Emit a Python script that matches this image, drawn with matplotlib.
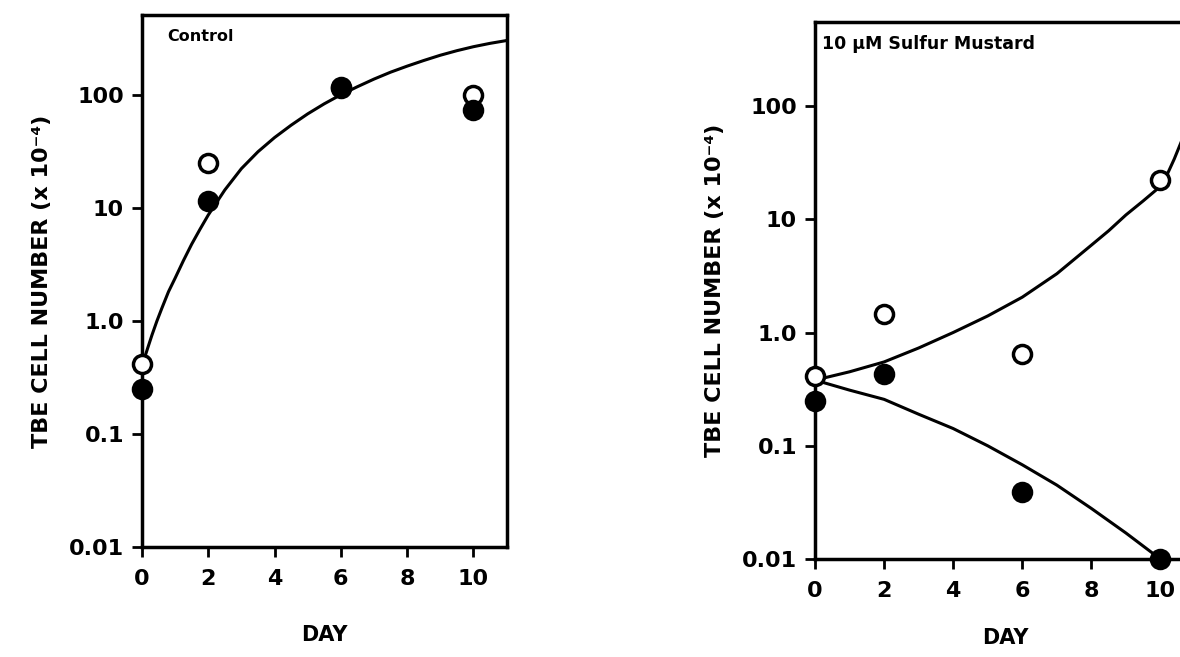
import numpy as np
import matplotlib.pyplot as plt

# values
days = [0, 2, 6, 10]

ctrl_open = [0.42, 25, 118, 100]
ctrl_filled = [0.25, 11.5, 117, 74]
ctrl_fit_x = [0, 0.15, 0.3, 0.45, 0.6, 0.8, 1.0, 1.25, 1.5, 1.75, 2.0, 2.5, 3.0, 3.5,
              4.0, 4.5, 5.0, 5.5, 6.0, 6.5, 7.0, 7.5, 8.0, 8.5, 9.0, 9.5, 10.0, 10.5, 11.0]
ctrl_fit_y = [0.4, 0.55, 0.75, 1.0, 1.3, 1.82, 2.4, 3.43, 4.8, 6.5, 8.7, 14.5, 22.4, 31.6,
              42.2, 54.3, 68.4, 84, 101, 119, 139, 160, 181, 203, 226, 248, 269, 288, 305]

sm_open = [0.41, 1.47, 0.65, 22]
sm_filled = [0.25, 0.43, 0.039, 0.01]
sm_up_x = [0, 1, 2, 3, 4, 5, 6, 7, 8, 8.5, 9, 9.5, 10, 10.2, 10.4, 10.6]
sm_up_y = [0.38, 0.45, 0.55, 0.73, 1.0, 1.4, 2.05, 3.3, 5.9, 7.9, 10.9, 14.5, 19.5, 25, 34, 48]
sm_dn_x = [0, 1, 2, 3, 4, 5, 6, 7, 8, 9, 10]
sm_dn_y = [0.38, 0.31, 0.257, 0.19, 0.142, 0.10, 0.068, 0.045, 0.028, 0.017, 0.01]

yticks = [0.01, 0.1, 1, 10, 100]
ylabels = ['0.01', '0.1', '1.0', '10', '100']
xticks = [0, 2, 4, 6, 8, 10]

plt.rcParams['font.family'] = 'DejaVu Sans'
plt.rcParams['font.weight'] = 'bold'

fig = plt.figure(figsize=(11.8, 6.57), dpi=100)
ax1 = fig.add_axes([0.1203, 0.1674, 0.309, 0.810])
ax2 = fig.add_axes([0.6907, 0.149, 0.322, 0.8175])


def style(ax, top, xpad):
    ax.set_yscale('log')
    ax.set_xlim(0, 11)
    ax.set_ylim(0.01, top)
    ax.set_yticks(yticks)
    ax.set_yticklabels(ylabels)
    ax.yaxis.set_minor_locator(plt.NullLocator())
    ax.set_xticks(xticks)
    ax.tick_params(direction='out', length=7, width=2, labelsize=16, pad=6)
    ax.tick_params(axis='x', pad=9)
    for lab in ax.get_xticklabels() + ax.get_yticklabels():
        lab.set_fontweight('bold')
    for s in ax.spines.values():
        s.set_linewidth(2.5)
    ax.set_ylabel('TBE CELL NUMBER (x 10⁻⁴)', fontsize=16, fontweight='bold', labelpad=12)
    ax.set_xlabel('DAY', fontsize=15, fontweight='bold', labelpad=xpad)


style(ax1, 515, 26)
style(ax2, 550, 19)

mk = dict(ms=13, mew=2.5, ls='none', clip_on=False, zorder=3)

ax1.plot(ctrl_fit_x, ctrl_fit_y, color='black', lw=2.2)
ax1.plot(days, ctrl_open, 'o', mfc='white', mec='black', **mk)
ax1.plot(days, ctrl_filled, 'o', color='black', **mk)
ax1.text(0.07, 0.974, 'Control', transform=ax1.transAxes, fontsize=11.5,
         fontweight='bold', va='top')

ax2.plot(sm_up_x, sm_up_y, color='black', lw=2.2)
ax2.plot(sm_dn_x, sm_dn_y, color='black', lw=2.2)
ax2.plot(days, sm_open, 'o', mfc='white', mec='black', **mk)
ax2.plot(days, sm_filled, 'o', color='black', **mk)
ax2.text(0.018, 0.976, '10 µM Sulfur Mustard', transform=ax2.transAxes, fontsize=12.5,
         fontweight='bold', va='top')

fig.savefig('out.png', dpi=100)
